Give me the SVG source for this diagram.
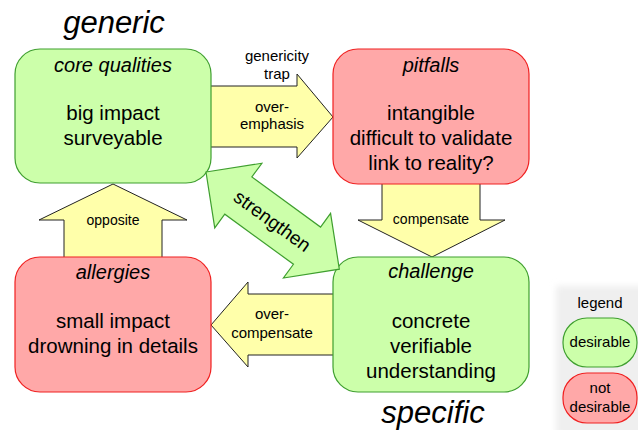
<svg xmlns="http://www.w3.org/2000/svg" width="638" height="430" viewBox="0 0 638 430">
<defs>
<filter id="blur" x="-20%" y="-20%" width="140%" height="140%"><feGaussianBlur stdDeviation="3"/></filter>
</defs>
<style>
text{font-family:"Liberation Sans",Arial,sans-serif;fill:#000;text-anchor:middle}
.good{fill:#ccffaa;stroke:#3f9f2f;stroke-width:1.2}
.bad{fill:#ffa8a8;stroke:#f02020;stroke-width:1.2}
.yarrow{fill:#ffffaa;stroke:#222;stroke-width:1}
.garrow{fill:#ccffaa;stroke:#3f9f2f;stroke-width:1.2}
.title{font-size:31px;font-style:italic}
.head{font-size:20px;font-style:italic}
.body{font-size:20.5px}
.lbl{font-size:15px}
.lbl2{font-size:14px}
</style>
<rect width="638" height="430" fill="#fff"/>
<text class="title" x="114" y="33">generic</text>
<text class="title" x="433" y="423">specific</text>

<g id="connectors">
  <g id="overemphasis">
    <polygon class="yarrow" points="205,86 297,86 297,74 333,117 297,158 297,147 205,147"/>
    <text class="lbl" x="277" y="61">genericity</text>
    <text class="lbl" x="277" y="79">trap</text>
    <text class="lbl" x="272" y="112">over-</text>
    <text class="lbl" x="272" y="129">emphasis</text>
  </g>
  <g id="compensate">
    <polygon class="yarrow" points="382,178 480,178 480,220 505,220 432,257 358,220 382,220"/>
    <text class="lbl2" x="431" y="224">compensate</text>
  </g>
  <g id="opposite">
    <polygon class="yarrow" points="64,263 64,220 39,220 113,184 187,220 162,220 162,263"/>
    <text class="lbl2" x="113" y="225">opposite</text>
  </g>
  <g id="overcompensate">
    <polygon class="yarrow" points="339,294 248,294 248,282 211,325 248,367 248,355 339,355"/>
    <text class="lbl" x="272" y="319">over-</text>
    <text class="lbl" x="272" y="338">compensate</text>
  </g>
</g>

<g id="core">
  <rect class="good" x="15" y="49" width="196" height="134" rx="25"/>
  <text class="head" x="113" y="72">core qualities</text>
  <text class="body" x="113" y="120">big impact</text>
  <text class="body" x="113" y="145">surveyable</text>
</g>
<g id="pitfalls">
  <rect class="bad" x="333" y="49" width="196" height="135" rx="25"/>
  <text class="head" x="431" y="72">pitfalls</text>
  <text class="body" x="431" y="120">intangible</text>
  <text class="body" x="431" y="145">difficult to validate</text>
  <text class="body" x="431" y="170">link to reality?</text>
</g>
<g id="allergies">
  <rect class="bad" x="15" y="257" width="196" height="135" rx="25"/>
  <text class="head" x="113" y="279">allergies</text>
  <text class="body" x="113" y="328">small impact</text>
  <text class="body" x="113" y="353">drowning in details</text>
</g>
<g id="challenge">
  <rect class="good" x="333" y="257" width="196" height="135" rx="25"/>
  <text class="head" x="431" y="278">challenge</text>
  <text class="body" x="431" y="328">concrete</text>
  <text class="body" x="431" y="353">verifiable</text>
  <text class="body" x="431" y="378">understanding</text>
</g>

<g id="strengthen">
  <g transform="translate(206,172) rotate(36.1)">
    <polygon class="garrow" points="0,0 40,-40 40,-23 125,-23 125,-40 165,0 125,40 125,23 40,23 40,40"/>
    <text x="82.5" y="7" style="font-size:19px">strengthen</text>
  </g>
</g>

<g id="legend">
  <rect x="556" y="286" width="90" height="150" fill="#efefef" filter="url(#blur)"/>
  <text class="lbl" x="600" y="308">legend</text>
  <g id="legend-desirable">
    <rect class="good" x="563" y="318" width="74" height="49" rx="24"/>
    <text class="lbl" x="600" y="347">desirable</text>
  </g>
  <g id="legend-notdesirable">
    <rect class="bad" x="563" y="373" width="74" height="50" rx="24"/>
    <text class="lbl" x="600" y="393">not</text>
    <text class="lbl" x="600" y="412">desirable</text>
  </g>
</g>
</svg>
